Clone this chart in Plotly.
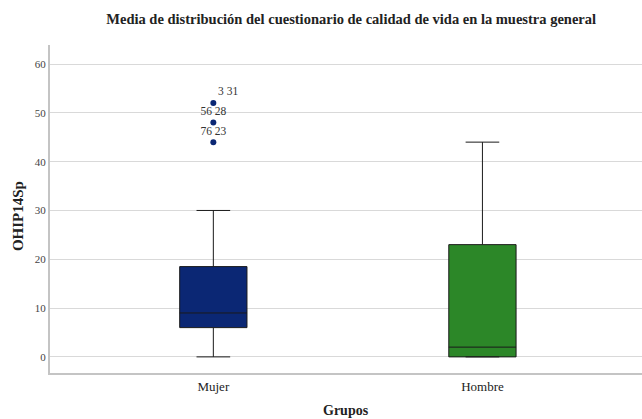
import plotly.graph_objects as go

groups = ["Mujer", "Hombre"]
q1 = [6, 0]
medians = [9, 2]
q3 = [18.5, 23]
lower = [0, 0]
upper = [30, 44]
colors = ["#0B2774", "#2C8728"]

outlier_group = ["Mujer", "Mujer", "Mujer"]
outlier_values = [52, 48, 44]
outlier_labels = ["3 31", "56 28", "76 23"]
outlier_pos = ["top right", "top center", "top center"]

y_ticks = [0, 10, 20, 30, 40, 50, 60]

SERIF = "Liberation Serif"

fig = go.Figure()
for i, g in enumerate(groups):
    fig.add_trace(go.Box(
        x=[g], q1=[q1[i]], median=[medians[i]], q3=[q3[i]],
        lowerfence=[lower[i]], upperfence=[upper[i]],
        fillcolor=colors[i], line=dict(color="#1a1a1a", width=1),
        width=0.25, whiskerwidth=0.5, boxpoints=False, showlegend=False,
    ))

fig.add_trace(go.Scatter(
    x=outlier_group, y=outlier_values, mode="markers+text",
    text=outlier_labels, textposition=outlier_pos,
    textfont=dict(family=SERIF, size=11.5, color="#333333"),
    marker=dict(color="#0B2774", size=6), showlegend=False,
))

fig.update_layout(
    width=642, height=419,
    margin=dict(l=50, r=0, t=45, b=46, autoexpand=False),
    paper_bgcolor="white", plot_bgcolor="white",
    boxmode="overlay",
    title=dict(text="<b>Media de distribución del cuestionario de calidad de vida en la muestra general</b>",
               x=0.547, xanchor="center", y=0.955, yanchor="middle",
               font=dict(family=SERIF, size=14.5, color="#222222")),
    font=dict(family=SERIF, color="#333333"),
    annotations=[
        dict(text="<b>Grupos</b>", xref="paper", yref="paper", x=0.5, y=-0.113,
             xanchor="center", yanchor="middle", showarrow=False,
             font=dict(family=SERIF, size=14, color="#222222")),
        dict(text="<b>OHIP14Sp</b>", xref="paper", yref="paper", x=-0.0549, y=0.48,
             xanchor="center", yanchor="middle", textangle=-90, showarrow=False,
             font=dict(family=SERIF, size=15, color="#222222")),
    ],
)
fig.update_xaxes(
    type="category", categoryorder="array", categoryarray=groups,
    range=[-0.607, 1.593], showline=True, linecolor="#c4c4c4", linewidth=2,
    showgrid=False, ticks="", automargin=False,
    tickfont=dict(family=SERIF, size=13, color="#222222"),
)
fig.update_yaxes(
    range=[-3.3, 63.9], tickvals=y_ticks, showline=True, linecolor="#c4c4c4", linewidth=2,
    showgrid=True, gridcolor="#d9d9d9", gridwidth=1, zeroline=False, ticks="",
    automargin=False, tickfont=dict(family=SERIF, size=11, color="#444444"), ticklabelstandoff=0,
)

fig.write_html("out.html", config={"displayModeBar": False},
               post_script="document.body.style.margin='0';")
